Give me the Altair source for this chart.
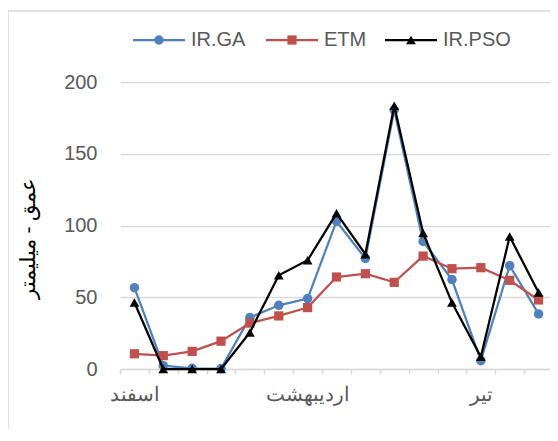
import json
import altair as alt
import pandas as pd

# ---- data ----
categories = list(range(1, 16))
x_labels = ["اسفند", "", "", "", "", "", "اردیبهشت", "", "", "", "", "", "تیر", "", ""]
series_names = ["IR.GA", "ETM", "IR.PSO"]
ir_ga = [56.7, 2.3, 0.5, 0.3, 35.9, 44.4, 49.1, 103.0, 77.0, 180.5, 88.9, 62.3, 5.8, 72.0, 38.4]
etm = [10.6, 9.3, 12.3, 19.4, 32.0, 37.0, 42.8, 64.1, 66.4, 60.4, 78.7, 69.9, 70.6, 61.8, 48.1]
ir_pso = [46.3, 0.0, 0.0, 0.0, 25.5, 65.3, 75.8, 108.5, 80.0, 183.5, 94.8, 46.3, 8.5, 92.3, 53.3]
y_ticks = [0, 50, 100, 150, 200]
y_title = "عمق - میلیمتر"

# ---- styles ----
colors = ["#4F81BD", "#C0504D", "#000000"]
shapes = ["circle", "square", "triangle-up"]
sizes = [90, 85, 95]
legend_x0 = [13, 146, 265]
W, H = 430, 287
XR = 433
HALF_BAND = XR / 15 / 2
GRID = "#d9d9d9"
TXT = "#595959"
FONT = "Liberation Sans"

rows = []
for name, vals in zip(series_names, [ir_ga, etm, ir_pso]):
    for c, v in zip(categories, vals):
        rows.append({"idx": c, "value": v, "series": name})
df = pd.DataFrame(rows)

label_expr = json.dumps(x_labels, ensure_ascii=False) + "[datum.value - 1]"

x_enc = alt.X(
    "idx:O",
    bandPosition=0.5,
    scale=alt.Scale(type="band", paddingInner=0, paddingOuter=0, range=[0, XR]),
    axis=alt.Axis(
        title=None, labelExpr=label_expr, labelAngle=0,
        tickOffset=-HALF_BAND, labelOffset=HALF_BAND,
        domainColor=GRID, domainWidth=1.5, tickColor=GRID, tickWidth=1.5,
        tickSize=5, labelColor=TXT, labelFontSize=20, labelPadding=10,
        labelOverlap=False, grid=False, labelFont=FONT,
    ),
)
y_enc = alt.Y(
    "value:Q",
    scale=alt.Scale(domain=[0, 200]),
    axis=alt.Axis(
        values=y_ticks, title=y_title, titleFontSize=21, titleColor="#000000",
        titleFontWeight="normal", titleX=-92, titleY=156, titleBaseline="middle",
        titleAlign="center", titleAngle=270, titleFont=FONT,
        domain=False, ticks=False, labelPadding=23, gridColor=GRID,
        gridWidth=1.5, labelColor=TXT, labelFontSize=20, labelFont=FONT,
    ),
)

layers = []
# chart border (decoration): top and left edges of the chart frame
one_row = pd.DataFrame({"a": [0]})
layers.append(alt.Chart(one_row).mark_rule(color=GRID, strokeWidth=1.5).encode(
    x=alt.value(-112), x2=alt.value(1000), y=alt.value(-71)))
layers.append(alt.Chart(one_row).mark_rule(color=GRID, strokeWidth=1.5).encode(
    x=alt.value(-112), y=alt.value(-71), y2=alt.value(1000)))

for name, col, shp, sz in zip(series_names, colors, shapes, sizes):
    base = alt.Chart(df).transform_filter(alt.datum.series == name)
    layers.append(base.mark_line(color=col, strokeWidth=2.25).encode(x=x_enc, y=y_enc))
    layers.append(base.mark_point(shape=shp, filled=True, size=sz, color=col, opacity=1).encode(x=x_enc, y=y_enc))

# manual legend
for name, col, shp, sz, x0 in zip(series_names, colors, shapes, sizes, legend_x0):
    one = alt.Chart(pd.DataFrame({"s": [name]}))
    layers.append(one.mark_rule(color=col, strokeWidth=2.25).encode(
        x=alt.value(x0), x2=alt.value(x0 + 52), y=alt.value(-42)))
    layers.append(one.mark_point(shape=shp, filled=True, size=sz, color=col, opacity=1).encode(
        x=alt.value(x0 + 26), y=alt.value(-42)))
    layers.append(one.mark_text(align="left", baseline="middle", fontSize=20, color=TXT, font=FONT).encode(
        x=alt.value(x0 + 58), y=alt.value(-42), text=alt.value(name)))

chart = alt.layer(*layers).properties(
    width=W, height=H,
    autosize=alt.AutoSizeParams(type="none"),
    padding={"left": 112, "top": 74, "right": 0, "bottom": 60},
).configure(
    font=FONT, background="white"
).configure_view(
    stroke="transparent", strokeWidth=0
)

chart.save("out.html", embed_options={"renderer": "svg", "actions": False})
